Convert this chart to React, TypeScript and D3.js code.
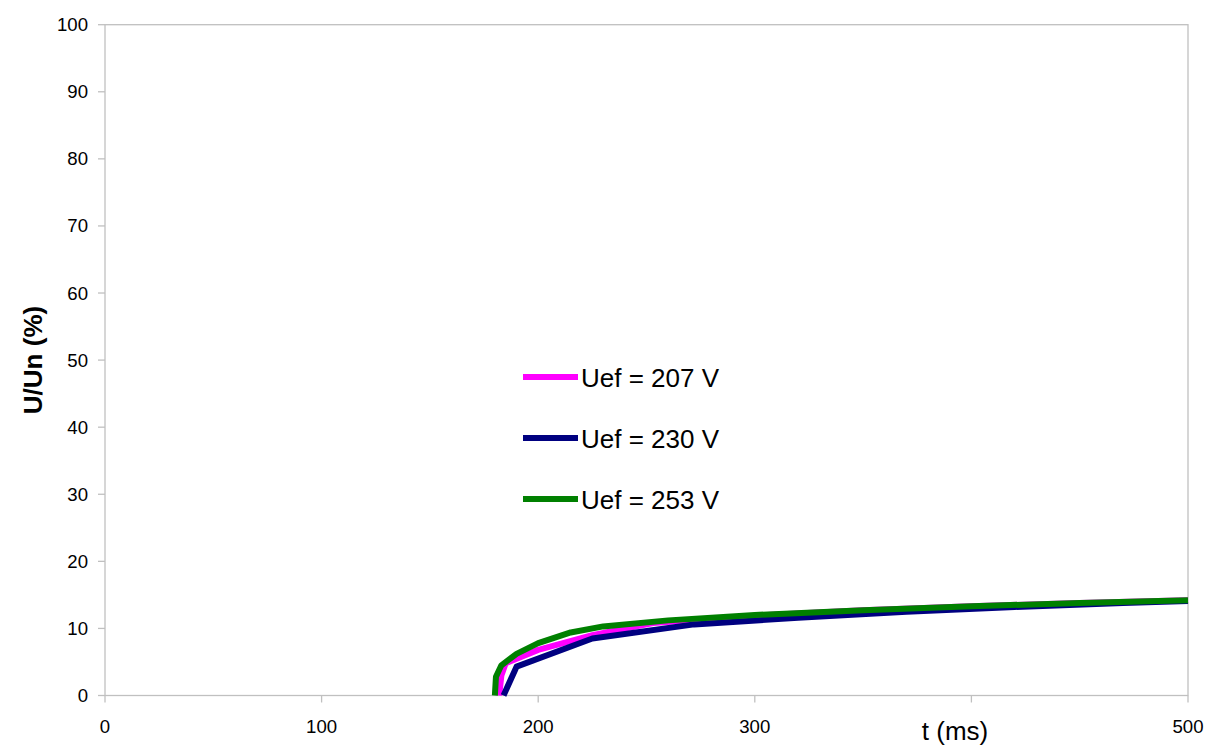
import React from "react";
import * as d3 from "d3";

const xTicks = [0, 100, 200, 300, 400, 500];
const xTickLabels = ["0", "100", "200", "300", "", "500"];
const yTicks = [0, 10, 20, 30, 40, 50, 60, 70, 80, 90, 100];

const t207 = [182, 183, 185, 200, 225, 253, 300, 350, 400, 450, 500];
const v207 = [0, 3, 4.8, 6.8, 9.0, 10.8, 11.9, 12.7, 13.3, 13.8, 14.2];

const t230 = [184, 190, 225, 272, 320, 370, 420, 470, 500];
const v230 = [0, 4.3, 8.5, 10.6, 11.6, 12.5, 13.2, 13.8, 14.1];

const t253 = [180, 180.5, 183, 190, 200, 215, 230, 260, 300, 350, 400, 450, 500];
const v253 = [0, 2.8, 4.5, 6.2, 7.8, 9.4, 10.3, 11.2, 12.0, 12.7, 13.3, 13.8, 14.2];

const seriesNames = ["Uef = 207 V", "Uef = 230 V", "Uef = 253 V"];
const seriesColors = ["#ff00ff", "#000080", "#008000"];

export default function App() {
  const W = 1210, H = 747;
  const x = d3.scaleLinear().domain([0, 500]).range([105, 1188]);
  const y = d3.scaleLinear().domain([0, 100]).range([695.5, 24.7]);
  const line = d3.line<[number, number]>().x(d => x(d[0])).y(d => y(d[1]));
  const series = [
    t207.map((t, i) => [t, v207[i]] as [number, number]),
    t230.map((t, i) => [t, v230[i]] as [number, number]),
    t253.map((t, i) => [t, v253[i]] as [number, number]),
  ];
  const font = "Liberation Sans, Arial, sans-serif";
  const axisColor = "#c0c0c0";
  return (
    <svg width={W} height={H} style={{ position: "absolute", left: 0, top: 0, background: "#fff" }}>
      <rect x={0} y={0} width={W} height={H} fill="#fff" />
      <rect x={x(0)} y={y(100)} width={x(500) - x(0)} height={y(0) - y(100)} fill="none" stroke={axisColor} strokeWidth={1.3} />
      {yTicks.map(v => (
        <g key={"y" + v}>
          <line x1={x(0) - 7} x2={x(0)} y1={y(v)} y2={y(v)} stroke={axisColor} strokeWidth={1.3} />
          <text x={88} y={y(v)} dy="0.35em" textAnchor="end" fontFamily={font} fontSize={18.6} fill="#000">{v}</text>
        </g>
      ))}
      {xTicks.map((v, i) => (
        <g key={"x" + v}>
          <line x1={x(v)} x2={x(v)} y1={y(0)} y2={y(0) + 7} stroke={axisColor} strokeWidth={1.3} />
          {xTickLabels[i] ? (
            <text x={x(v)} y={726} dy="0.35em" textAnchor="middle" fontFamily={font} fontSize={18.6} fill="#000">{xTickLabels[i]}</text>
          ) : null}
        </g>
      ))}
      <text x={955} y={731} dy="0.35em" textAnchor="middle" fontFamily={font} fontSize={26} fill="#000">t (ms)</text>
      <text transform={`translate(33,360) rotate(-90)`} dy="0.35em" textAnchor="middle" fontFamily={font} fontSize={26} fontWeight="bold" fill="#000">U/Un (%)</text>
      {series.map((s, i) => (
        <path key={"s" + i} d={line(s) || ""} fill="none" stroke={seriesColors[i]} strokeWidth={6} strokeLinejoin="round" />
      ))}
      {seriesNames.map((n, i) => (
        <g key={"l" + i}>
          <line x1={523} x2={578} y1={377 + i * 61} y2={377 + i * 61} stroke={seriesColors[i]} strokeWidth={6} />
          <text x={581} y={378 + i * 61} dy="0.35em" fontFamily={font} fontSize={26} fill="#000">{n}</text>
        </g>
      ))}
    </svg>
  );
}
